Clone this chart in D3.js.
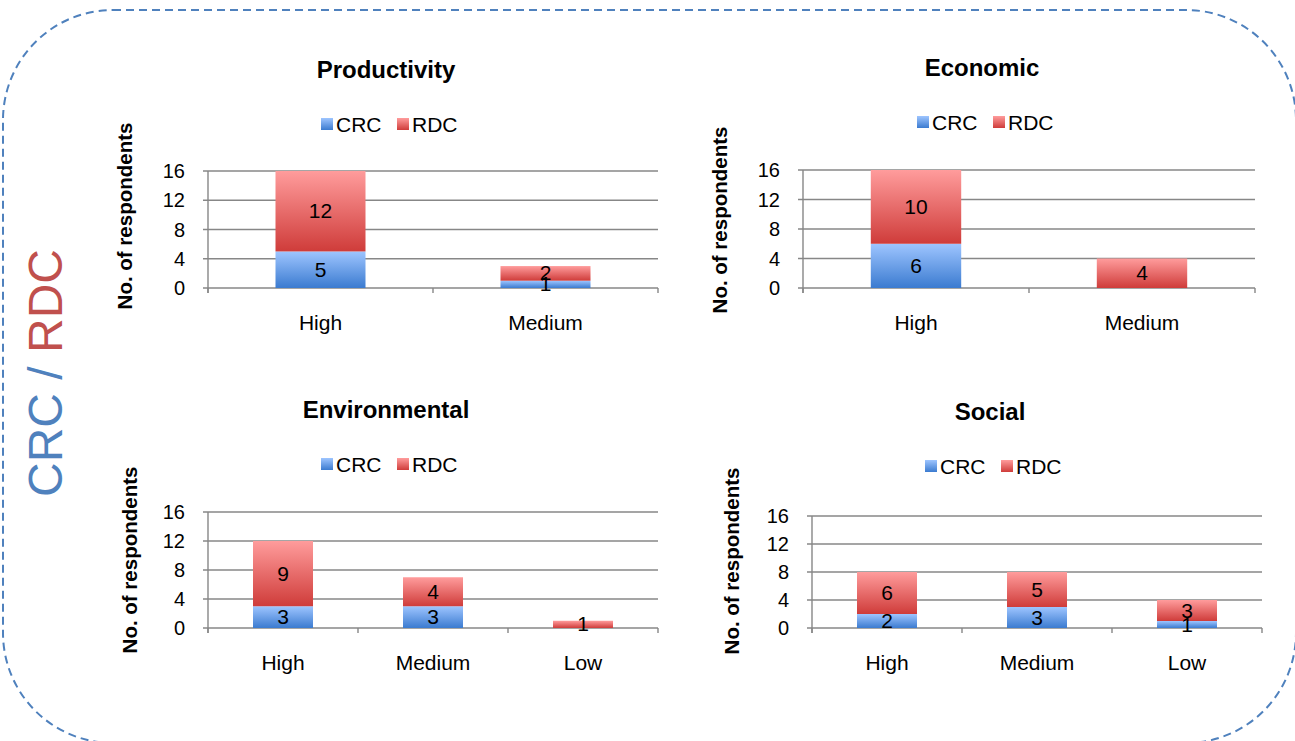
<!DOCTYPE html>
<html>
<head>
<meta charset="utf-8">
<script src="https://cdn.jsdelivr.net/npm/d3@7"></script>
<style>
  body { margin: 0; background: #fff; }
  svg { font-family: "Liberation Sans", Arial, sans-serif; }
</style>
</head>
<body>
<script>
// Data
const seriesNames = ['CRC', 'RDC']
const levels2 = ['High', 'Medium']
const levels3 = ['High', 'Medium', 'Low']
const yTicks = [0, 4, 8, 12, 16]

const productivityCRC = [5, 1]
const productivityRDC = [12, 2]
const economicCRC = [6, 0]
const economicRDC = [10, 4]
const environmentalCRC = [3, 3, 0]
const environmentalRDC = [9, 4, 1]
const socialCRC = [2, 3, 1]
const socialRDC = [6, 5, 3]

const yLabel = 'No. of respondents'

// Panel layout (positions in px)
const panels = [
  {title: 'Productivity', cats: levels2, crc: productivityCRC, rdc: productivityRDC,
    x0: 208, x1: 658, top: 171, zero: 288, titleX: 386, titleY: 78, legX: 321, legY: 124, yTitleX: 132, yTitleY: 216},
  {title: 'Economic', cats: levels2, crc: economicCRC, rdc: economicRDC,
    x0: 803, x1: 1255, top: 170, zero: 288, titleX: 982, titleY: 76, legX: 917, legY: 122, yTitleX: 727, yTitleY: 220},
  {title: 'Environmental', cats: levels3, crc: environmentalCRC, rdc: environmentalRDC,
    x0: 208, x1: 658, top: 512, zero: 628, titleX: 386, titleY: 418, legX: 321, legY: 464, yTitleX: 137, yTitleY: 560},
  {title: 'Social', cats: levels3, crc: socialCRC, rdc: socialRDC,
    x0: 812, x1: 1262, top: 516, zero: 628, titleX: 990, titleY: 420, legX: 925, legY: 466, yTitleX: 739, yTitleY: 561}
]

const colors = {
  CRC: {top: '#9ec5ff', bottom: '#3b7bd0'},
  RDC: {top: '#ff9c9c', bottom: '#cf3c3a'}
}
const gridColor = '#878787'
const yMax = 16

const svg = d3.select('body').append('svg')
  .attr('width', 1295)
  .attr('height', 741)

// Gradients
const defs = svg.append('defs')
seriesNames.forEach(s => {
  const g = defs.append('linearGradient')
    .attr('id', 'grad-' + s)
    .attr('x1', 0).attr('y1', 0).attr('x2', 0).attr('y2', 1)
  g.append('stop').attr('offset', '0%').attr('stop-color', colors[s].top)
  g.append('stop').attr('offset', '100%').attr('stop-color', colors[s].bottom)
})

// Dashed rounded frame
svg.append('rect')
  .attr('x', 3).attr('y', 10)
  .attr('width', 1293).attr('height', 733)
  .attr('rx', 110).attr('ry', 110)
  .style('fill', 'none')
  .style('stroke', '#4f81bd')
  .style('stroke-width', 2)
  .style('stroke-dasharray', '8,5')

// Side label
const side = svg.append('text')
  .attr('transform', 'translate(62,373) rotate(-90)')
  .style('text-anchor', 'middle')
  .style('font-size', '48px')
side.append('tspan').style('fill', '#4f81bd').text('CRC / ')
side.append('tspan').style('fill', '#c0504d').text('RDC')

panels.forEach(p => drawPanel(p))

function drawPanel(p) {
  const g = svg.append('g')

  const xScale = d3.scaleBand()
    .domain(p.cats)
    .range([p.x0, p.x1])
    .paddingInner(0.6)
    .paddingOuter(0.3)
  const yScale = d3.scaleLinear().domain([0, yMax]).range([p.zero, p.top])
  // Bars are cut at the axis maximum
  const yClip = v => yScale(Math.min(v, yMax))

  // Title
  g.append('text')
    .attr('x', p.titleX).attr('y', p.titleY)
    .style('text-anchor', 'middle')
    .style('font-size', '24px')
    .style('font-weight', 'bold')
    .text(p.title)

  // Legend
  const leg = g.append('g').attr('transform', `translate(${p.legX},${p.legY})`)
  seriesNames.forEach((s, i) => {
    const lx = i * 76
    leg.append('rect')
      .attr('x', lx).attr('y', -6)
      .attr('width', 12).attr('height', 12)
      .style('fill', `url(#grad-${s})`)
    leg.append('text')
      .attr('x', lx + 15).attr('y', 7.5)
      .style('font-size', '21px')
      .text(s)
  })

  // Y axis title
  g.append('text')
    .attr('transform', `translate(${p.yTitleX},${p.yTitleY}) rotate(-90)`)
    .style('text-anchor', 'middle')
    .style('font-size', '20.5px')
    .style('font-weight', 'bold')
    .text(yLabel)

  // Gridlines and y ticks
  g.selectAll('.grid')
    .data(yTicks)
    .join('line')
    .attr('class', 'grid')
    .attr('x1', p.x0 - 5).attr('x2', p.x1)
    .attr('y1', d => yScale(d)).attr('y2', d => yScale(d))
    .style('stroke', gridColor)
    .style('stroke-width', 1.4)

  g.selectAll('.ytick')
    .data(yTicks)
    .join('text')
    .attr('class', 'ytick')
    .attr('x', p.x0 - 23).attr('y', d => yScale(d) + 7)
    .style('text-anchor', 'end')
    .style('font-size', '20px')
    .text(d => d)

  // Vertical axis line
  g.append('line')
    .attr('x1', p.x0).attr('x2', p.x0)
    .attr('y1', p.top).attr('y2', p.zero + 5)
    .style('stroke', gridColor)
    .style('stroke-width', 1.4)

  // X ticks at category boundaries
  const step = xScale.step()
  const bounds = d3.range(p.cats.length + 1).map(i => p.x0 + i * step)
  g.selectAll('.xtick')
    .data(bounds)
    .join('line')
    .attr('class', 'xtick')
    .attr('x1', d => d).attr('x2', d => d)
    .attr('y1', p.zero).attr('y2', p.zero + 5)
    .style('stroke', gridColor)
    .style('stroke-width', 1.4)

  // Category labels
  g.selectAll('.xlabel')
    .data(p.cats)
    .join('text')
    .attr('class', 'xlabel')
    .attr('x', d => xScale(d) + xScale.bandwidth() / 2)
    .attr('y', p.zero + 42)
    .style('text-anchor', 'middle')
    .style('font-size', '21px')
    .text(d => d)

  // Stacked bars
  const rows = p.cats.map((c, i) => ({cat: c, CRC: p.crc[i], RDC: p.rdc[i]}))
  const stacked = d3.stack().keys(seriesNames)(rows)

  stacked.forEach(layer => {
    const s = layer.key
    g.selectAll('.bar-' + s)
      .data(layer.filter(d => d[1] - d[0] > 0))
      .join('rect')
      .attr('class', 'bar-' + s)
      .attr('x', d => xScale(d.data.cat))
      .attr('width', xScale.bandwidth())
      .attr('y', d => yClip(d[1]))
      .attr('height', d => yClip(d[0]) - yClip(d[1]))
      .style('fill', `url(#grad-${s})`)
  })

  // Value labels, centred on the visible part of each segment
  stacked.forEach(layer => {
    const s = layer.key
    g.selectAll('.lab-' + s)
      .data(layer.filter(d => d[1] - d[0] > 0))
      .join('text')
      .attr('class', 'lab-' + s)
      .attr('x', d => xScale(d.data.cat) + xScale.bandwidth() / 2)
      .attr('y', d => (yClip(d[0]) + yClip(d[1])) / 2 + 7)
      .style('text-anchor', 'middle')
      .style('font-size', '21px')
      .text(d => d[1] - d[0])
  })
}
</script>
</body>
</html>
